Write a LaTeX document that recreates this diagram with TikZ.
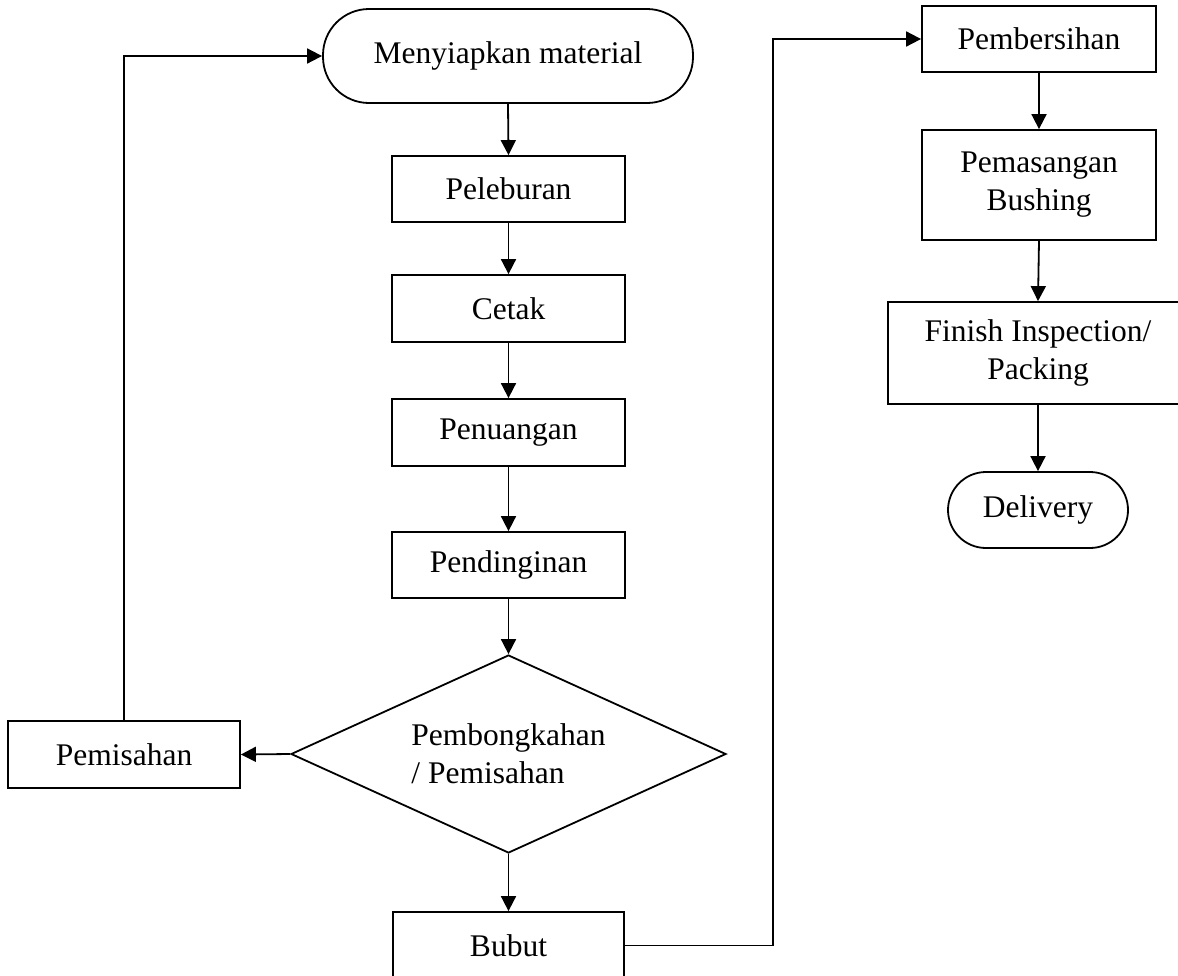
\documentclass[tikz,border=0pt]{standalone}
\usepackage{fontspec}
\setmainfont{Liberation Serif}
\usetikzlibrary{shapes.geometric,arrows.meta}
\begin{document}
\begin{tikzpicture}[x=1pt,y=-1pt,
  every node/.style={font=\fontsize{31.5}{38}\selectfont},
  box/.style={draw,line width=1.8pt,rectangle,inner sep=0pt,align=center},
  term/.style={draw,line width=1.8pt,rectangle,rounded corners=#1,inner sep=0pt,align=center},
  dec/.style={draw,line width=1.8pt,diamond,aspect=2.2,inner sep=0pt,align=left},
  arr/.style={line width=1.8pt,-{Triangle[length=15pt,width=15pt]}},
  ln/.style={line width=1.8pt}]
\useasboundingbox (0,0) rectangle (1178,975);
\node[term=46pt,minimum width=370pt,minimum height=94pt] (men) at (508,56) {Menyiapkan material};
\node[box,minimum width=233pt,minimum height=66pt] (pel) at (508.5,189) {Peleburan};
\node[box,minimum width=233pt,minimum height=67pt] (cet) at (508.5,308.5) {Cetak};
\node[box,minimum width=233pt,minimum height=67pt] (pen) at (508.5,432.5) {Penuangan};
\node[box,minimum width=233pt,minimum height=66pt] (pend) at (508.5,565) {Pendinginan};
\node[dec,minimum width=435pt,minimum height=198pt] (dia) at (508.5,754) {Pembongkahan\\/ Pemisahan};
\node[box,minimum width=232pt,minimum height=67pt] (pemi) at (124,754.5) {Pemisahan};
\node[box,minimum width=231pt,minimum height=67pt] (bub) at (508.5,945.5) {Bubut};
\node[box,minimum width=234pt,minimum height=66pt] (pemb) at (1039,39) {Pembersihan};
\node[box,minimum width=234pt,minimum height=110pt] (pemas) at (1039,185) {Pemasangan\\Bushing};
\node[box,minimum width=300pt,minimum height=102pt] (fin) at (1038,353) {Finish Inspection/\\Packing};
\node[term=38pt,minimum width=180pt,minimum height=76pt] (del) at (1038,510) {Delivery};
\coordinate (turn) at (773,500);
\draw[arr] (men.south) -- (pel.north);
\draw[arr] (pel) -- (cet);
\draw[arr] (cet) -- (pen);
\draw[arr] (pen) -- (pend);
\draw[arr] (pend.south) -- (dia.north);
\draw[arr] (dia.south) -- (bub.north);
\draw[arr] (dia.west) -- (pemi.east);
\draw[arr] (pemi.north) |- (men.west);
\draw[arr] (bub.east) -- (bub.east -| turn) -- (turn |- pemb.west) -- (pemb.west);
\draw[arr] (pemb.south) -- (pemas.north);
\draw[arr] (pemas.south) -- (fin.north);
\draw[arr] (fin.south) -- (del.north);
\end{tikzpicture}
\end{document}
